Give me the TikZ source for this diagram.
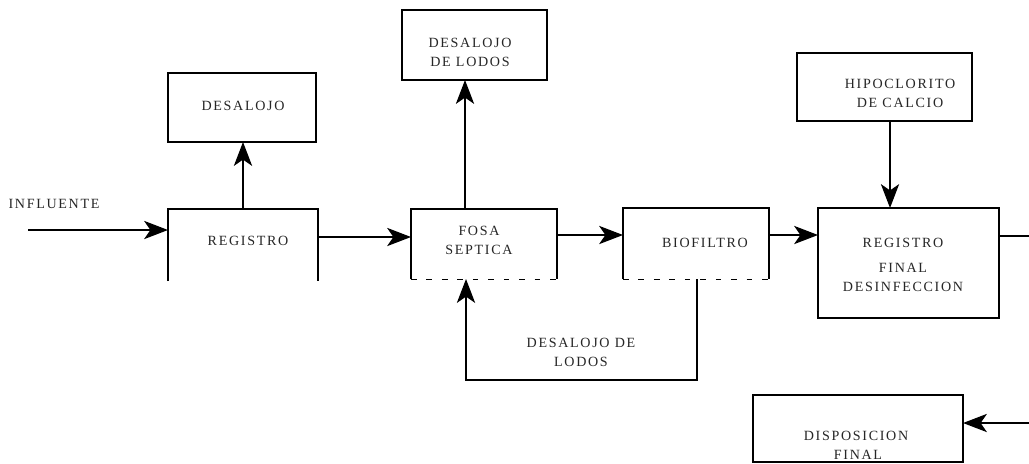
\documentclass[tikz,border=0pt]{standalone}
\usepackage{fontspec}
\setmainfont{Liberation Serif}
\newfontfamily\diagfont[LetterSpace=12]{Liberation Serif}
\usetikzlibrary{arrows.meta}
\begin{document}
\begin{tikzpicture}[x=0.025cm,y=-0.025cm,
  box/.style={draw=black,line width=0.8pt,inner sep=0pt,outer sep=0pt,rectangle},
  openbox/.style={inner sep=0pt,outer sep=0pt,rectangle},
  txt/.style={inner sep=0pt,font=\diagfont\fontsize{10pt}{13.5pt}\selectfont,text=black!85},
  conn/.style={line width=0.8pt,draw=black},
  arr/.style={conn,-{Stealth[length=17pt,width=13pt,inset=4.5pt]}},
  brokenline/.style={line width=0.7pt,dash pattern=on 4pt off 7pt}]
\useasboundingbox (0,0) rectangle (1029,463);
% boxes
\node[openbox,minimum width=3.75cm,minimum height=1.8cm] (reg1) at (243,245) {};
\node[box,minimum width=3.7cm,minimum height=1.725cm] (desal) at (242,107.5) {};
\node[box,minimum width=3.625cm,minimum height=1.75cm] (dlodos) at (474.5,45) {};
\node[openbox,minimum width=3.65cm,minimum height=1.75cm] (fosa) at (484,244) {};
\node[openbox,minimum width=3.65cm,minimum height=1.775cm] (biof) at (696,243.5) {};
\node[box,minimum width=4.375cm,minimum height=1.7cm] (hipo) at (884.5,87) {};
\node[box,minimum width=4.525cm,minimum height=2.75cm] (regf) at (908.5,263) {};
\node[box,minimum width=5.25cm,minimum height=1.675cm] (disp) at (858,428.5) {};
% open / broken box outlines
\draw[conn] (reg1.south west) -- (reg1.north west) -- (reg1.north east) -- (reg1.south east);
\draw[conn] (fosa.south west) -- (fosa.north west) -- (fosa.north east) -- (fosa.south east);
\draw[brokenline] (fosa.south west) -- (fosa.south east);
\draw[conn] (biof.south west) -- (biof.north west) -- (biof.north east) -- (biof.south east);
\draw[brokenline] (biof.south west) -- (biof.south east);
% texts
\node[txt] (tinfl) at (54,204) {INFLUENTE};
\node[txt] (treg1) at (248,241) {REGISTRO};
\node[txt] (tdesal) at (243,106) {DESALOJO};
\node[txt,align=center] (tdlodos) at (470,52) {DESALOJO\\DE LODOS};
\node[txt,align=center] (tfosa) at (479,240) {FOSA\\SEPTICA};
\node[txt] (tbiof) at (705,243) {BIOFILTRO};
\node[txt,align=center] (thipo) at (900,93) {HIPOCLORITO\\DE CALCIO};
\node[txt] (tregf1) at (903,243) {REGISTRO};
\node[txt] (tregf2) at (903,268) {FINAL};
\node[txt] (tregf3) at (903,287) {DESINFECCION};
\node[txt] (tdisp1) at (856,436) {DISPOSICION};
\node[txt] (tdisp2) at (858,455) {FINAL};
\node[txt,align=center] (tfb) at (581,352) {DESALOJO DE\\LODOS};
% free ends
\coordinate (inflstart) at (28,230);
\coordinate (regfout) at (1029,236);
\coordinate (dispin) at (1029,423);
\coordinate (fbcornerR) at (697,380);
\coordinate (fbcornerL) at (466,380);
% connectors
\draw[arr] (inflstart) -- (reg1.west |- inflstart);
\draw[arr] (reg1.north -| 243,0) -- (desal.south -| 243,0);
\draw[arr] (reg1.east |- 0,237) -- (fosa.west |- 0,237);
\draw[arr] (fosa.north -| 465,0) -- (dlodos.south -| 465,0);
\draw[arr] (fosa.east |- 0,235) -- (biof.west |- 0,235);
\draw[arr] (biof.east |- 0,235) -- (regf.west |- 0,235);
\draw[arr] (hipo.south -| 890,0) -- (regf.north -| 890,0);
\draw[conn] (regf.east |- regfout) -- (regfout);
\draw[arr] (dispin) -- (disp.east |- dispin);
\draw[arr] (biof.south -| fbcornerR) -- (fbcornerR) -- (fbcornerL) -- (fosa.south -| fbcornerL);
\end{tikzpicture}
\end{document}
